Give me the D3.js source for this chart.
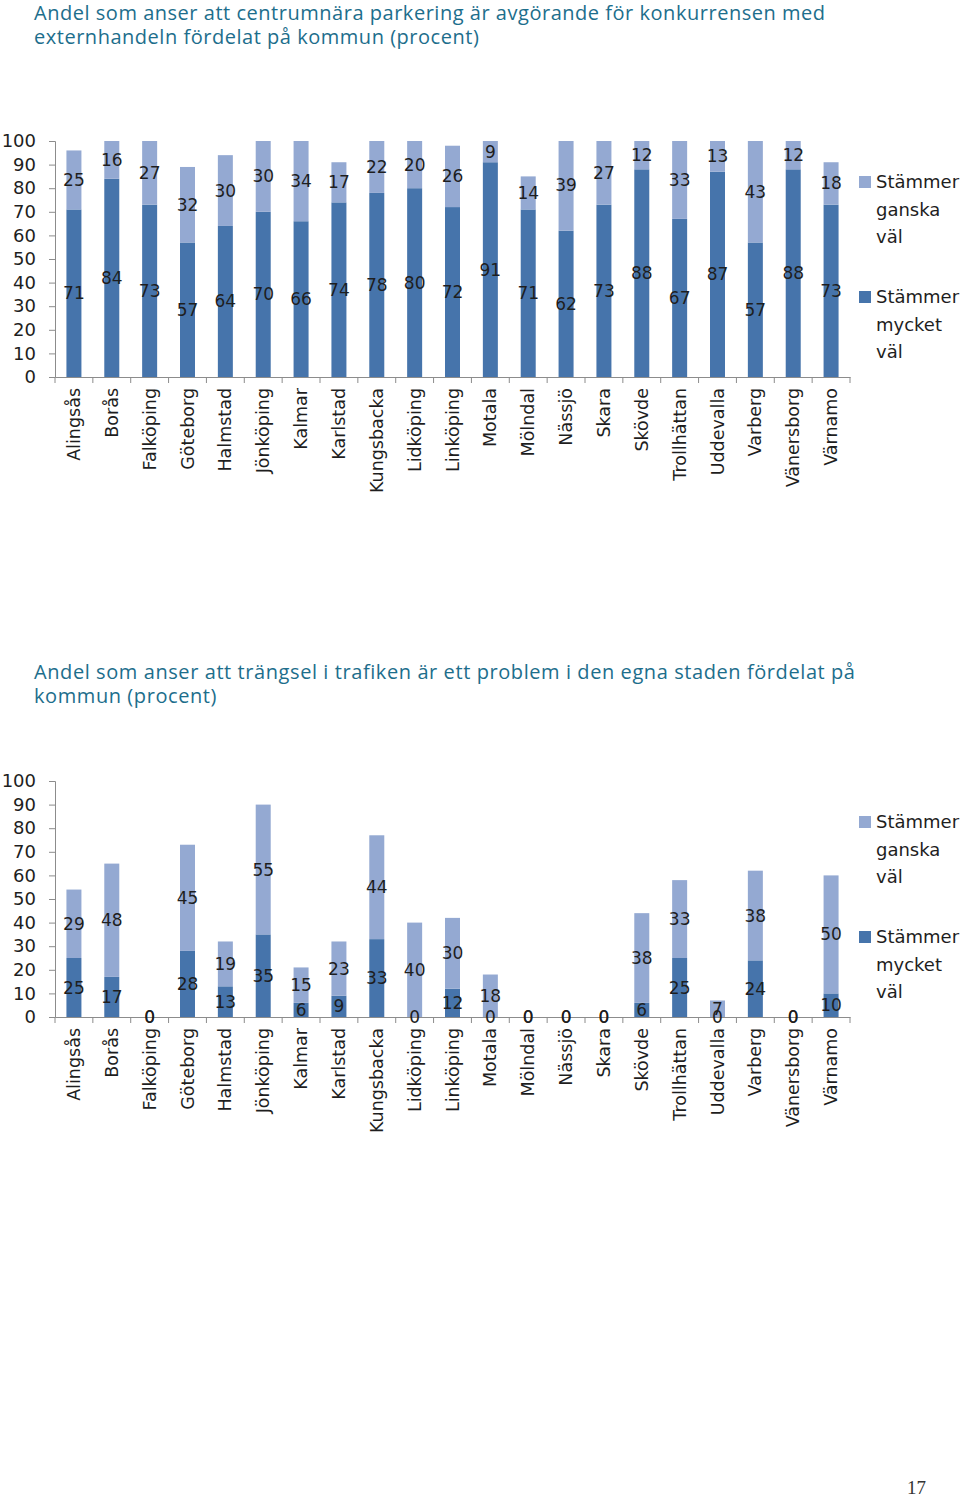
<!DOCTYPE html>
<html><head><meta charset="utf-8">
<script src="https://cdn.jsdelivr.net/npm/d3@7"></script>
<style>
html,body{margin:0;padding:0;background:#fff;}
svg{display:block;}
</style></head>
<body>
<script>
const categories = ["Alingsås","Borås","Falköping","Göteborg","Halmstad","Jönköping","Kalmar","Karlstad","Kungsbacka","Lidköping","Linköping","Motala","Mölndal","Nässjö","Skara","Skövde","Trollhättan","Uddevalla","Varberg","Vänersborg","Värnamo"];
const seriesNames = ["Stämmer mycket väl","Stämmer ganska väl"];
// Chart 1: centrumnära parkering
const parkMycket = [71,84,73,57,64,70,66,74,78,80,72,91,71,62,73,88,67,87,57,88,73];
const parkGanska = [25,16,27,32,30,30,34,17,22,20,26,9,14,39,27,12,33,13,43,12,18];
// Chart 2: trängsel i trafiken
const trafMycket = [25,17,0,28,13,35,6,9,33,0,12,0,0,0,0,6,25,0,24,0,10];
const trafGanska = [29,48,0,45,19,55,15,23,44,40,30,18,0,0,0,38,33,7,38,0,50];
const yTicks = [0,10,20,30,40,50,60,70,80,90,100];
const titles = [
  ["Andel som anser att centrumnära parkering är avgörande för konkurrensen med","externhandeln fördelat på kommun (procent)"],
  ["Andel som anser att trängsel i trafiken är ett problem i den egna staden fördelat på","kommun (procent)"]
];
const pageNumber = "17";

const W = 960, H = 1497;
const DARK = "#4674ab", LIGHT = "#94a9d2", AXIS = "#8c8c8c", TXT = "#1e1e1e", TITLE = "#1d6e8c";
const svg = d3.select("body").append("svg").attr("width", W).attr("height", H);

function drawTitle(lines, y0, targetWidth) {
  const g = svg.append("g");
  const texts = lines.map((l, i) => g.append("text").attr("x", 34).attr("y", y0 + i * 24.5)
      .attr("font-family", "'Open Sans', 'Noto Sans', sans-serif")
      .attr("font-size", 20).attr("fill", TITLE).text(l));
  const w = texts[0].node().getComputedTextLength();
  const ls = Math.max(0, (targetWidth - w) / (lines[0].length - 1));
  texts.forEach(t => t.attr("letter-spacing", ls.toFixed(3)));
  return g;
}

function drawChart(top, mycket, ganska) {
  const y0 = top + 236, y100 = top;
  const x = d3.scaleBand().domain(categories).range([55, 850]).paddingInner(0).paddingOuter(0);
  const y = d3.scaleLinear().domain([0, 100]).range([y0, y100]);
  const bw = 15;
  const g = svg.append("g");
  const data = categories.map((c, i) => ({c, m: mycket[i], gk: ganska[i]}));
  // bars
  g.selectAll(".bm").data(data).join("rect")
    .attr("x", d => x(d.c) + x.bandwidth()/2 - bw/2).attr("width", bw)
    .attr("y", d => y(Math.min(100, d.m))).attr("height", d => y(0) - y(Math.min(100, d.m)))
    .attr("fill", DARK);
  g.selectAll(".bg").data(data).join("rect")
    .attr("x", d => x(d.c) + x.bandwidth()/2 - bw/2).attr("width", bw)
    .attr("y", d => y(Math.min(100, d.m + d.gk))).attr("height", d => y(d.m) - y(Math.min(100, d.m + d.gk)))
    .attr("fill", LIGHT);
  // y axis
  const ya = d3.axisLeft(y).tickValues(yTicks).tickSize(6).tickPadding(13);
  const yg = g.append("g").attr("transform", "translate(55,0)").call(ya);
  yg.select(".domain").attr("stroke", AXIS);
  yg.selectAll(".tick line").attr("stroke", AXIS);
  yg.selectAll(".tick text").attr("font-family", "'DejaVu Sans', sans-serif").attr("font-size", 18).attr("fill", TXT);
  // x axis
  const xa = d3.axisBottom(x).tickSize(0).tickFormat(() => "");
  const xg = g.append("g").attr("transform", `translate(0,${y0})`).call(xa);
  xg.select(".domain").attr("stroke", AXIS);
  const bounds = categories.map(c => x(c)).concat([x.range()[1]]);
  xg.selectAll(".sep").data(bounds).join("line")
    .attr("x1", d => d).attr("x2", d => d).attr("y1", 0).attr("y2", 6).attr("stroke", AXIS);
  g.selectAll(".cat").data(categories).join("text")
    .attr("transform", c => `translate(${x(c) + x.bandwidth()/2},${y0 + 11}) rotate(-90)`)
    .attr("text-anchor", "end").attr("dominant-baseline", "central")
    .attr("font-family", "'DejaVu Sans', sans-serif").attr("font-size", 17.5).attr("fill", TXT)
    .text(c => c);
  // data labels
  const lab = (sel) => sel.attr("text-anchor", "middle").attr("dominant-baseline", "central")
    .attr("font-family", "'DejaVu Sans', sans-serif").attr("font-size", 17).attr("fill", TXT);
  g.selectAll(".lm").data(data).join("text")
    .attr("x", d => x(d.c) + x.bandwidth()/2).attr("y", d => y(d.m / 2)).call(lab).text(d => d.m);
  g.selectAll(".lg").data(data).join("text")
    .attr("x", d => x(d.c) + x.bandwidth()/2).attr("y", d => y(d.m + d.gk / 2)).call(lab).text(d => d.gk);
  // legend
  const leg = [{name: ["Stämmer","ganska","väl"], col: LIGHT, dy: 35}, {name: ["Stämmer","mycket","väl"], col: DARK, dy: 150}];
  leg.forEach(L => {
    g.append("rect").attr("x", 859).attr("y", top + L.dy).attr("width", 12).attr("height", 12).attr("fill", L.col);
    L.name.forEach((t, i) => {
      g.append("text").attr("x", 876).attr("y", top + L.dy + 12 + i * 27.5)
        .attr("font-family", "'DejaVu Sans', sans-serif").attr("font-size", 18).attr("fill", TXT).text(t);
    });
  });
}

drawTitle(titles[0], 19.5, 791);
drawChart(141, parkMycket, parkGanska);
drawTitle(titles[1], 678.5, 821);
drawChart(781, trafMycket, trafGanska);

svg.append("text").attr("x", 926).attr("y", 1494).attr("text-anchor", "end")
  .attr("font-family", "'Liberation Serif', serif").attr("font-size", 19).attr("fill", "#333").text(pageNumber);
</script>
</body></html>
